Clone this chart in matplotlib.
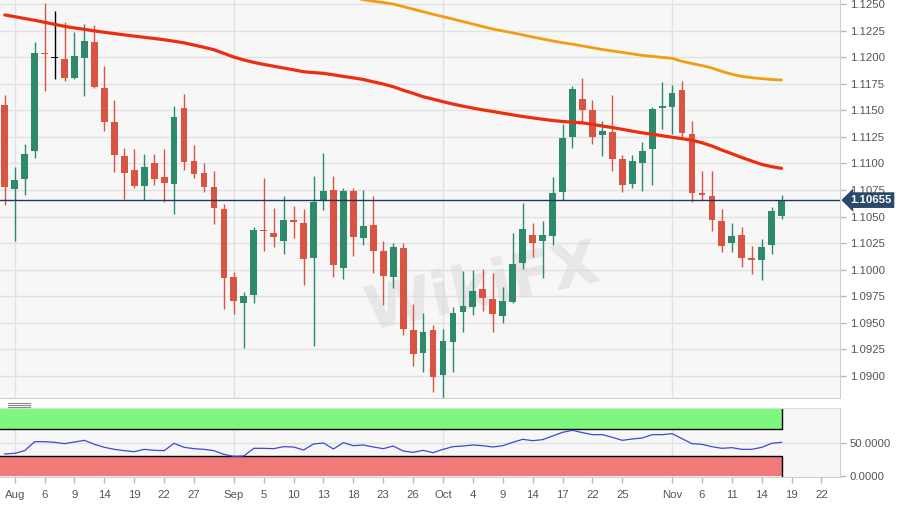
# EUR/USD daily candles with 100/200 SMA and RSI panel.
import matplotlib
matplotlib.use('Agg')
import matplotlib.pyplot as plt
from matplotlib.lines import Line2D
from matplotlib.patches import Rectangle
import matplotlib.transforms as mtransforms
import pandas as pd

plt.rcParams['font.family'] = ['Liberation Sans', 'DejaVu Sans']

# Trading days (Jul 31 .. Nov 18 2019) plus room up to Nov 22 for the axis.
start_day = '2019-07-31'
end_axis_day = '2019-11-22'

opens = [1.1155, 1.1076, 1.1085, 1.1112, 1.1204, 1.1199, 1.1198, 1.1180, 1.1199, 1.1214,
         1.1171, 1.1139, 1.1107, 1.1094, 1.1079, 1.1100, 1.1087, 1.1081, 1.1152, 1.1102,
         1.1091, 1.1078, 1.1057, 1.0993, 1.0969, 1.0976, 1.1037, 1.1035, 1.1027, 1.1047,
         1.1044, 1.1011, 1.1066, 1.1075, 1.1002, 1.1074, 1.1030, 1.1042, 1.1018, 1.0993,
         1.1020, 1.0943, 1.0922, 1.0943, 1.0901, 1.0932, 1.0960, 1.0965, 1.0982, 1.0972,
         1.0956, 1.0970, 1.1006, 1.1033, 1.1027, 1.1032, 1.1073, 1.1125, 1.1161, 1.1150,
         1.1127, 1.1130, 1.1104, 1.1081, 1.1100, 1.1114, 1.1152, 1.1153, 1.1169, 1.1128,
         1.1072, 1.1069, 1.1046, 1.1025, 1.1033, 1.1011, 1.1009, 1.1023, 1.1051]
highs = [1.1164, 1.1097, 1.1118, 1.1214, 1.1251, 1.1243, 1.1233, 1.1224, 1.1231, 1.1230,
         1.1192, 1.1160, 1.1115, 1.1114, 1.1109, 1.1109, 1.1114, 1.1154, 1.1165, 1.1117,
         1.1100, 1.1093, 1.1062, 1.0998, 1.0979, 1.1040, 1.1086, 1.1058, 1.1069, 1.1060,
         1.1057, 1.1088, 1.1110, 1.1088, 1.1077, 1.1077, 1.1075, 1.1069, 1.1027, 1.1025,
         1.1025, 1.0968, 1.0959, 1.0948, 1.0944, 1.0965, 1.0999, 1.1000, 1.1001, 1.0997,
         1.0984, 1.1035, 1.1063, 1.1044, 1.1046, 1.1087, 1.1137, 1.1173, 1.1180, 1.1160,
         1.1140, 1.1164, 1.1108, 1.1108, 1.1120, 1.1153, 1.1177, 1.1174, 1.1178, 1.1140,
         1.1093, 1.1093, 1.1057, 1.1044, 1.1040, 1.1022, 1.1029, 1.1059, 1.1070]
lows = [1.1061, 1.1027, 1.1070, 1.1105, 1.1168, 1.1179, 1.1178, 1.1179, 1.1163, 1.1171,
        1.1131, 1.1092, 1.1067, 1.1077, 1.1066, 1.1080, 1.1064, 1.1052, 1.1094, 1.1086,
        1.1073, 1.1043, 1.0963, 1.0958, 1.0926, 1.0969, 1.1018, 1.1021, 1.1015, 1.1030,
        1.0986, 1.0928, 1.1056, 1.0993, 1.0991, 1.1013, 1.1023, 1.0997, 1.0967, 1.0983,
        1.0939, 1.0909, 1.0904, 1.0885, 1.0879, 1.0904, 1.0941, 1.0957, 1.0961, 1.0941,
        1.0950, 1.0969, 1.1001, 1.1012, 1.0992, 1.1023, 1.1066, 1.1115, 1.1139, 1.1118,
        1.1107, 1.1093, 1.1073, 1.1077, 1.1074, 1.1080, 1.1132, 1.1128, 1.1125, 1.1064,
        1.1066, 1.1036, 1.1017, 1.1017, 1.1003, 1.0996, 1.0990, 1.1015, 1.1048]
closes = [1.1078, 1.1084, 1.1109, 1.1204, 1.1203, 1.1199, 1.1180, 1.1201, 1.1215, 1.1172,
          1.1139, 1.1108, 1.1091, 1.1079, 1.1097, 1.1085, 1.1082, 1.1144, 1.1101, 1.1090,
          1.1078, 1.1058, 1.0992, 1.0971, 1.0975, 1.1037, 1.1036, 1.1031, 1.1047, 1.1045,
          1.1010, 1.1064, 1.1074, 1.1004, 1.1074, 1.1031, 1.1041, 1.1018, 1.0994, 1.1021,
          1.0944, 1.0921, 1.0941, 1.0899, 1.0933, 1.0959, 1.0966, 1.0980, 1.0973, 1.0958,
          1.0971, 1.1005, 1.1038, 1.1025, 1.1033, 1.1072, 1.1124, 1.1170, 1.1150, 1.1125,
          1.1131, 1.1104, 1.1080, 1.1102, 1.1112, 1.1151, 1.1154, 1.1166, 1.1129, 1.1072,
          1.1070, 1.1047, 1.1022, 1.1032, 1.1011, 1.1009, 1.1021, 1.1055, 1.10655]

# 100-day SMA (red), one value per candle
sma100 = [1.12398, 1.12381, 1.12364, 1.12347, 1.12328, 1.12309, 1.12290, 1.12275, 1.12262, 1.12247,
          1.12234, 1.12222, 1.12210, 1.12198, 1.12187, 1.12176, 1.12164, 1.12150, 1.12135, 1.12114,
          1.12093, 1.12070, 1.12036, 1.12001, 1.11974, 1.11951, 1.11932, 1.11915, 1.11898, 1.11881,
          1.11863, 1.11855, 1.11848, 1.11834, 1.11819, 1.11805, 1.11790, 1.11768, 1.11747, 1.11722,
          1.11689, 1.11660, 1.11628, 1.11605, 1.11581, 1.11559, 1.11539, 1.11521, 1.11504, 1.11489,
          1.11473, 1.11457, 1.11442, 1.11429, 1.11416, 1.11404, 1.11395, 1.11388, 1.11382, 1.11368,
          1.11352, 1.11338, 1.11321, 1.11304, 1.11288, 1.11275, 1.11261, 1.11247, 1.11233, 1.11219,
          1.11195, 1.11164, 1.11126, 1.11092, 1.11056, 1.11023, 1.10991, 1.10970, 1.10954]

# 200-day SMA (orange), visible from candle 35 onwards
sma200_start = 35
sma200 = [1.12563, 1.12541, 1.12527, 1.12514, 1.12500, 1.12476, 1.12452, 1.12428, 1.12404, 1.12381,
          1.12359, 1.12335, 1.12312, 1.12288, 1.12265, 1.12247, 1.12229, 1.12210, 1.12190, 1.12171,
          1.12153, 1.12136, 1.12122, 1.12106, 1.12089, 1.12072, 1.12059, 1.12045, 1.12031, 1.12017,
          1.12008, 1.11998, 1.11989, 1.11961, 1.11940, 1.11921, 1.11898, 1.11866, 1.11840, 1.11819,
          1.11807, 1.11798, 1.11790, 1.11785]

rsi = [33, 34, 38, 51.5, 51.5, 50.5, 48.5, 51, 53.5, 47.5,
       43, 40, 38, 36.5, 40, 38.5, 38, 49, 43, 41,
       40, 38, 32.5, 29.5, 30, 41.5, 41.5, 41, 44, 43.5,
       39, 48, 49.5, 40.5, 50, 45.5, 46.5, 43.5, 41, 45,
       37.5, 35.5, 38.5, 35, 40, 44, 45, 46.5, 45.5, 43.5,
       45.5, 50.5, 55, 53, 54.5, 60, 65.5, 68.5, 65, 62,
       62, 58, 53.5, 55.5, 57, 62, 62, 63.5, 56, 48.5,
       47.5, 44, 41.5, 42.5, 40, 40, 43, 49, 50.5]

tick_days = ['2019-08-01', '2019-08-06', '2019-08-09', '2019-08-14', '2019-08-19', '2019-08-22',
             '2019-08-27', '2019-09-02', '2019-09-05', '2019-09-10', '2019-09-13', '2019-09-18',
             '2019-09-23', '2019-09-26', '2019-10-01', '2019-10-04', '2019-10-09', '2019-10-14',
             '2019-10-17', '2019-10-22', '2019-10-25', '2019-11-01', '2019-11-06', '2019-11-11',
             '2019-11-14', '2019-11-19', '2019-11-22']
tick_labels = ['Aug', '6', '9', '14', '19', '22', '27', 'Sep', '5', '10', '13', '18', '23', '26',
               'Oct', '4', '9', '14', '17', '22', '25', 'Nov', '6', '11', '14', '19', '22']
month_days = ['2019-08-01', '2019-09-02', '2019-10-01', '2019-11-01']
price_ticks = [1.0900, 1.0925, 1.0950, 1.0975, 1.1000, 1.1025, 1.1050, 1.1075,
               1.1100, 1.1125, 1.1150, 1.1175, 1.1200, 1.1225, 1.1250]

last_price = closes[-1]

# Colours
bg = '#f7f7f7'
grid_c = '#e2e2e2'
up_c = '#2f8a6b'
down_c = '#d95443'
text_c = '#555555'

days = pd.bdate_range(start_day, end_axis_day)
pos = {d.strftime('%Y-%m-%d'): i for i, d in enumerate(days)}
n = len(closes)
x = list(range(n))

fig = plt.figure(figsize=(9.05, 5.05), dpi=100)
ax = fig.add_axes([0, 1 - 398 / 505, 840 / 905, 398 / 505])
ax2 = fig.add_axes([0, 1 - 477 / 505, 840 / 905, 69 / 505])

xmin, xmax = -0.48, 83.86
for a in (ax, ax2):
    a.set_facecolor(bg)
    a.set_xlim(xmin, xmax)
    for d in month_days:
        a.axvline(pos[d], color=grid_c, lw=1, zorder=0)
    for s in ('top', 'left'):
        a.spines[s].set_visible(False)
    a.spines['right'].set_color('#cfcfcf')
    a.spines['bottom'].set_color('#cfcfcf')

# Price pane
ax.set_ylim(1.08793, 1.12538)
for p in price_ticks:
    ax.axhline(p, color=grid_c, lw=1, zorder=0)

# Watermark (behind the candles)
ax.text(pos['2019-10-07'], 1.0982, 'WikiFX', fontsize=44, fontweight='bold',
        color='#d9d6d6', alpha=0.5, rotation=12, ha='center', va='center', zorder=1,
        family='DejaVu Sans')

for i in x:
    o, h, l, c = opens[i], highs[i], lows[i], closes[i]
    if c > o:
        col = up_c
    elif c < o:
        col = down_c
    else:
        col = 'black'
    ax.vlines(i, l, h, color=col, lw=1, zorder=2)
    body = max(abs(c - o), 0.00008)
    ax.bar(i, body, bottom=min(o, c), width=0.68, color=col, lw=0, zorder=3)

ax.plot(x, sma100, color='#ec2e0e', lw=2.3, zorder=4, solid_capstyle='round')
ax.plot(x[sma200_start:], sma200, color='#f39c12', lw=2.0, zorder=4, solid_capstyle='round')

ax.axhline(last_price, color='#1f3b5c', lw=1, zorder=5)

ax.yaxis.tick_right()
ax.set_yticks(price_ticks)
ax.set_yticklabels(['{:.4f}'.format(p) for p in price_ticks])
ax.tick_params(axis='y', length=4, width=1, color='#b8b8b8', labelcolor=text_c,
               labelsize=8.2, pad=3)
ax.set_xticks([])

trans = mtransforms.blended_transform_factory(ax.transAxes, ax.transData)
ax.text(1.012, last_price, '{:.5f}'.format(last_price), transform=trans, fontsize=8.2,
        fontweight='bold', color='white', va='center', ha='left', zorder=10,
        bbox=dict(boxstyle='larrow,pad=0.25', fc='#2b4a6b', ec='none'), clip_on=False)

# RSI pane
ax2.set_ylim(-1.5, 102)
ax2.axhline(50, color=grid_c, lw=1, zorder=0)
last_x = x[-1]
ax2.add_patch(Rectangle((xmin, 70), last_x - xmin, 30, fc='#7ef77e', ec='none', zorder=1))
ax2.add_patch(Rectangle((xmin, 0), last_x - xmin, 30, fc='#f07a7a', ec='none', zorder=1))
ax2.plot([xmin, last_x, last_x], [70, 70, 100], color='black', lw=1, zorder=2)
ax2.plot([xmin, last_x, last_x], [30, 30, 0], color='black', lw=1, zorder=2)
ax2.plot(x, rsi, color='#3b4bd1', lw=0.9, zorder=3)
ax2.spines['top'].set_visible(True)
ax2.spines['top'].set_color('#dcdcdc')

ax2.yaxis.tick_right()
ax2.set_yticks([0, 50])
ax2.set_yticklabels(['0.0000', '50.0000'])
ax2.tick_params(axis='y', length=4, width=1, color='#b8b8b8', labelcolor=text_c,
                labelsize=8.2, pad=3)
ax2.set_xticks([pos[d] for d in tick_days])
ax2.set_xticklabels(tick_labels)
ax2.tick_params(axis='x', length=4, width=1, color='#b8b8b8', labelcolor=text_c,
                labelsize=8.2, pad=5)

# Pane handle between the two panels
for yy in (403, 405, 407):
    fig.add_artist(Line2D([8 / 905, 30 / 905], [1 - yy / 505, 1 - yy / 505],
                          color='#8a8a8a', lw=0.8))

fig.savefig('out.png', dpi=100, facecolor='white')
